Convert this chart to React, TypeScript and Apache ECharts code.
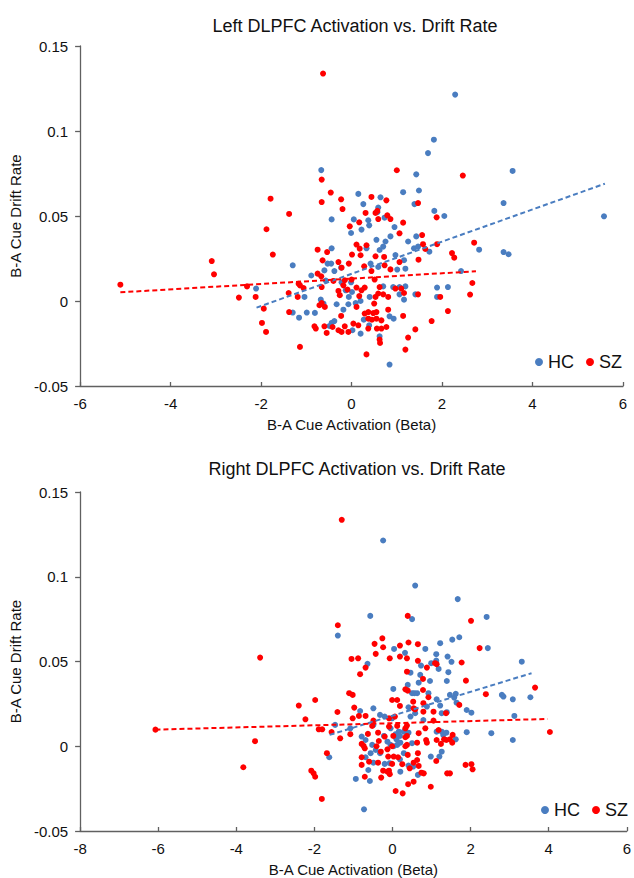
import React, { useEffect, useRef } from 'react';
import * as echarts from 'echarts';

type Pt = [number, number];

// ---------- Left DLPFC (top chart) ----------
const leftHC: Pt[] = [
  [1.69,0.087],[-0.67,0.077],[1.43,0.0745],[1.49,0.065],[1.14,0.064],[0.15,0.063],[0.64,0.061],[0.26,0.057],[1.39,0.057],[0.59,0.055],
  [1.83,0.053],[2.05,0.05],[-0.44,0.048],[0.05,0.048],[0.37,0.0475],[0.39,0.0445],[0.22,0.042],[0.73,0.049],[0.95,0.0435],[-0.01,0.04],
  [0.86,0.038],[0.55,0.036],[0.75,0.035],[1.25,0.035],[1.43,0.038],[0.7,0.032],[0.33,0.031],[0.62,0.03],[1.38,0.031],[1.72,0.029],
  [1.47,0.032],[-0.44,0.031],[0.97,0.027],[1.16,0.024],[-1.3,0.021],[-0.53,0.022],[-0.45,0.022],[-0.6,0.018],[-0.38,0.0176],[-0.23,0.0196],
  [0.42,0.022],[0.59,0.02],[1.01,0.0185],[1.19,0.019],[-0.89,0.015],[-0.57,0.012],[-0.22,0.011],[-2.11,0.0073],[-1.04,0.0024],[-0.01,0.011],
  [-0.13,0.0063],[0.01,0.0053],[-0.06,0.0024],[0.2,0.0],[0.4,0.0024],[0.7,0.0086],[0.92,0.0082],[1.06,0.0082],[1.19,0.0086],[1.06,0.0039],
  [1.16,0.0008],[1.41,0.0039],[1.89,0.0079],[2.13,0.0082],[1.89,0.0024],[-0.68,0.0008],[-1.3,-0.0068],[-1.16,-0.0098],[-0.99,-0.0068],[-0.81,-0.007],
  [-0.33,-0.0019],[-0.18,-0.0051],[-0.07,-0.0019],[0.09,-0.0012],[0.84,-0.009],[0.93,-0.0104],[-0.44,-0.0129],[-0.38,-0.0118],[0.02,-0.0172],[0.2,-0.0192],
  [0.39,-0.0143],[0.62,-0.0208],[0.84,-0.0374],[2.29,0.1214],[1.82,0.0949],[3.56,0.0765],[3.36,0.0576],[5.58,0.0498],[0.57,0.0522],[2.82,0.0302],
  [3.36,0.0288],[3.47,0.0275],[2.42,0.0176],[-0.62,-0.0015],[-0.49,-0.0147],[0.27,-0.011]
];
const leftSZ: Pt[] = [
  [-0.63,0.1338],[-0.66,0.0714],[-1.79,0.0602],[-0.46,0.0638],[-0.66,0.0582],[-1.38,0.0512],[-1.88,0.0422],[1.0,0.0769],[2.46,0.0738],[-0.23,0.0598],
  [-0.2,0.0541],[0.44,0.0612],[0.77,0.0592],[0.31,0.0518],[0.53,0.0518],[0.57,0.053],[0.79,0.0504],[0.86,0.0482],[0.59,0.0482],[0.17,0.0463],
  [-0.04,0.0439],[1.14,0.0461],[1.06,0.0398],[1.47,0.0576],[1.88,0.0492],[1.56,0.0388],[-1.74,0.0273],[1.58,0.0334],[1.63,0.0306],[1.89,0.0334],
  [-0.75,0.0302],[-0.54,0.0288],[-0.64,0.0239],[-0.29,0.0229],[-0.22,0.0196],[-0.06,0.022],[0.01,0.0273],[0.11,0.0332],[0.18,0.0308],[0.2,0.0269],
  [0.33,0.0328],[0.28,0.0204],[0.44,0.0176],[0.53,0.0263],[0.72,0.0259],[0.73,0.021],[0.86,0.0186],[1.06,0.0229],[1.48,0.0243],[2.22,0.0282],
  [2.27,0.0255],[-0.75,0.0161],[-0.67,0.0145],[-1.17,0.0102],[-1.14,0.0092],[-1.06,0.0076],[-1.39,0.0047],[-1.19,0.0024],[-0.66,0.0082],[-2.31,0.0086],
  [-2.12,0.0024],[-1.94,-0.0045],[-1.98,-0.0129],[-1.89,-0.0182],[-1.38,-0.0065],[-1.14,-0.027],[-0.71,-0.0025],[-0.66,-0.0012],[-0.59,-0.0035],[-0.82,-0.0149],
  [-0.79,-0.0162],[-0.6,-0.0149],[-0.55,-0.0188],[-0.42,-0.0153],[-0.23,-0.0088],[-0.29,-0.0172],[-0.22,-0.0182],[-0.15,-0.0149],[-0.07,-0.0182],[-0.4,0.0118],
  [-0.29,0.0059],[-0.26,0.0034],[-0.15,0.0122],[-0.18,0.0092],[-0.09,0.0067],[0.0,0.0126],[0.11,0.0079],[0.17,0.0029],[0.22,0.0063],[0.29,0.0079],
  [0.11,-0.0035],[0.29,-0.0074],[0.37,-0.0065],[0.5,-0.0015],[0.53,0.0024],[0.59,0.0044],[0.62,0.0082],[0.51,0.0126],[0.7,0.0039],[0.81,0.0024],
  [0.48,-0.0071],[0.55,-0.0065],[0.37,-0.0104],[0.45,-0.011],[0.55,-0.0104],[0.66,-0.0114],[0.81,-0.0051],[0.97,0.0073],[1.1,0.0073],[1.16,0.0047],
  [1.47,0.0039],[1.96,0.0024],[2.13,-0.0059],[1.77,-0.0118],[1.14,-0.0088],[1.41,-0.0167],[1.25,-0.0215],[1.19,-0.0286],[0.62,-0.0227],[0.63,-0.0247],
  [0.33,-0.0314],[0.37,-0.0162],[0.56,-0.0162],[0.66,-0.0162],[0.77,-0.0153],[0.15,-0.0143],[0.04,-0.0133],[-5.11,0.0096],[-3.09,0.0235],[-3.04,0.0157],
  [-2.49,0.002],[2.71,0.0343],[2.67,0.0106],[2.62,0.0038]
];
const leftHCTrend: Pt[] = [[-2.1,-0.0039],[5.6,0.069]];
const leftSZTrend: Pt[] = [[-5.11,0.0051],[2.75,0.0175]];

// ---------- Right DLPFC (bottom chart) ----------
const rightHC: Pt[] = [
  [-1.4,0.0653],[-0.24,0.1214],[0.58,0.0948],[1.67,0.0868],[-0.57,0.0769],[0.5,0.075],[2.41,0.0763],[1.22,0.0608],[1.53,0.0629],[1.71,0.0643],
  [0.84,0.0574],[0.04,0.0574],[0.32,0.0551],[1.12,0.0543],[1.41,0.0529],[2.44,0.0579],[3.31,0.0499],[-0.64,0.0486],[1.12,0.0505],[0.99,0.049],
  [1.51,0.0498],[0.73,0.0476],[1.18,0.0456],[0.46,0.0434],[0.71,0.0421],[1.43,0.0437],[0.67,0.0375],[0.96,0.0385],[1.39,0.0385],[0.39,0.0362],
  [0.02,0.0338],[0.5,0.0313],[0.56,0.0313],[0.63,0.0313],[0.92,0.0313],[1.47,0.0303],[1.58,0.0287],[1.62,0.0309],[1.13,0.0277],[1.64,0.0257],
  [0.88,0.0234],[1.22,0.024],[0.41,0.023],[-0.49,0.0224],[-0.83,0.0208],[-0.32,0.0185],[-0.2,0.0175],[-0.01,0.0165],[0.58,0.0195],[0.46,0.0175],
  [1.26,0.0195],[1.39,0.0201],[1.9,0.0214],[2.02,0.0198],[2.8,0.0303],[2.84,0.0293],[2.53,0.0077],[1.9,0.0083],[-1.47,0.0126],[-1.08,0.0106],
  [-0.49,0.0126],[-0.05,0.0106],[0.16,0.0086],[0.08,0.0071],[0.19,0.0061],[0.41,0.008],[0.79,0.0155],[1.13,0.0086],[1.26,0.0086],[1.3,0.0067],
  [1.38,0.008],[1.62,0.0041],[1.26,-0.0032],[1.2,-0.0061],[0.98,-0.0061],[-0.79,0.0057],[-0.69,0.0037],[-0.52,0.0008],[-0.22,0.0061],[-0.13,0.0027],
  [-0.05,0.0008],[0.1,0.0041],[0.2,0.0021],[0.12,0.0008],[0.03,0.0],[0.29,0.0086],[0.5,0.0018],[-0.43,-0.0022],[-0.56,-0.0041],[-0.32,-0.0041],
  [0.29,-0.0041],[-0.69,-0.0065],[-0.49,-0.0097],[-0.2,-0.0104],[-0.07,-0.01],[0.19,-0.0077],[0.41,-0.0114],[0.53,-0.012],[-0.62,-0.014],[0.2,-0.015],
  [0.65,-0.0169],[-1.62,-0.0065],[-0.94,-0.0193],[-0.58,-0.0205],[-0.73,-0.0372],[3.08,0.0277],[3.53,0.0289],[3.08,0.0037],[3.12,0.0179]
];
const rightSZ: Pt[] = [
  [-1.3,0.1336],[-3.39,0.0523],[-1.4,0.0714],[-2.4,0.024],[-1.98,0.0273],[-2.23,0.0159],[-1.41,0.0202],[-6.07,0.0098],[-3.52,0.003],[-3.82,-0.0124],
  [-2.08,-0.0144],[-2.02,-0.016],[-1.98,-0.018],[-1.81,-0.0311],[-1.89,0.01],[-1.8,0.01],[-1.68,-0.0041],[-1.56,0.0084],[-1.34,0.0047],[0.39,0.0769],
  [2.01,0.074],[-0.26,0.0637],[-0.46,0.0604],[-0.24,0.0584],[0.19,0.0594],[0.41,0.0612],[0.65,0.0602],[-0.43,0.0545],[-1.05,0.0515],[-0.88,0.0519],
  [-0.07,0.0519],[0.19,0.0529],[0.37,0.0519],[0.65,0.0504],[-0.69,0.0464],[-0.83,0.0425],[0.88,0.0464],[1.09,0.049],[1.13,0.0484],[1.77,0.0494],
  [2.23,0.0579],[0.37,0.044],[0.78,0.0397],[1.88,0.0387],[0.33,0.0336],[0.39,0.0328],[0.78,0.0332],[0.92,0.0289],[-1.11,0.0313],[-1.02,0.0303],
  [-0.01,0.0273],[0.12,0.0273],[0.53,0.0263],[0.79,0.0254],[2.39,0.0307],[-0.98,0.0228],[0.19,0.0238],[0.54,0.0224],[0.58,0.0218],[0.79,0.0204],
  [1.05,0.0204],[1.71,0.0244],[-1.02,0.0165],[-0.86,0.0179],[-0.69,0.0179],[-0.49,0.0151],[-0.09,0.0165],[0.06,0.0175],[1.05,0.0151],[1.37,0.0195],
  [-1.08,0.0071],[-0.52,0.012],[-0.09,0.0116],[0.12,0.012],[0.33,0.0106],[0.37,0.0122],[0.84,0.0106],[1.18,0.0096],[-0.63,0.0073],[-0.37,0.008],
  [-0.2,0.0057],[0.02,0.0061],[0.33,0.0053],[0.37,0.0061],[0.67,0.0077],[0.86,0.0037],[0.88,0.0021],[1.13,0.0037],[1.24,0.0014],[1.32,0.0041],
  [1.38,0.0037],[1.47,0.0041],[1.54,0.0067],[1.53,0.0021],[-0.79,0.0014],[-0.74,0.0002],[-0.71,-0.0012],[-0.35,0.0031],[-0.41,0.0],[-0.3,-0.0032],
  [-0.13,-0.0018],[-0.01,0.0],[0.33,0.0],[0.37,0.0008],[0.63,0.0021],[0.65,-0.0041],[0.63,-0.0081],[0.39,-0.0051],[-0.11,-0.0061],[0.03,-0.0061],
  [0.14,-0.0065],[-0.79,-0.0065],[-0.79,-0.011],[-0.6,-0.0091],[-0.37,-0.0097],[-0.01,-0.0104],[0.25,-0.0106],[0.54,-0.0097],[0.67,-0.0116],[1.12,-0.0087],
  [1.87,-0.011],[2.02,-0.0106],[2.05,-0.0136],[-0.24,-0.0144],[-0.13,-0.015],[-0.07,-0.0165],[-0.09,-0.0144],[-0.29,-0.0185],[0.44,-0.013],[0.74,-0.0156],
  [0.8,-0.016],[1.4,-0.016],[1.47,-0.016],[-0.71,-0.018],[0.54,-0.0209],[0.4,-0.0224],[0.98,-0.0239],[0.08,-0.0264],[0.26,-0.0278],[3.65,0.0346],
  [4.03,0.0084]
];
const rightHCTrend: Pt[] = [[-1.61,0.0067],[3.56,0.0431]];
const rightSZTrend: Pt[] = [[-6.07,0.0098],[3.97,0.0161]];

const titles = ['Left DLPFC Activation vs. Drift Rate', 'Right DLPFC Activation vs. Drift Rate'];
const xName = 'B-A Cue Activation (Beta)';
const yName = 'B-A Cue Drift Rate';
const xRanges: [number, number][] = [[-6, 6], [-8, 6]];
const yRange: [number, number] = [-0.05, 0.15];

const BLUE = '#4A7DC0';
const RED = '#FF0000';
const FONT = 'Liberation Sans, Arial, Helvetica, sans-serif';
const TEXT = '#111111';
const AXIS = '#606060';

export default function App() {
  const ref = useRef<HTMLDivElement>(null);
  useEffect(() => {
    if (!ref.current) return;
    const chart = echarts.init(ref.current, null, { renderer: 'svg' });

    const grids = [
      { left: 77, top: 46, width: 546, height: 340 },
      { left: 77, top: 492, width: 551, height: 339 },
    ];
    const xAxes = xRanges.map((r, i) => ({
      type: 'value', gridIndex: i, min: r[0], max: r[1], interval: 2,
      name: xName, nameLocation: 'middle', nameGap: 31,
      nameTextStyle: { fontSize: 15, color: TEXT, fontFamily: FONT },
      axisLine: { show: true, onZero: false, lineStyle: { color: AXIS, width: 1.3 } },
      axisTick: { show: true, inside: true, length: 4, lineStyle: { color: AXIS, width: 1.3 } },
      axisLabel: { fontSize: 15, color: TEXT, fontFamily: FONT, margin: 10 },
      splitLine: { show: false },
    }));
    const yAxes = [0, 1].map((i) => ({
      type: 'value', gridIndex: i, min: yRange[0], max: yRange[1], interval: 0.05,
      name: yName, nameLocation: 'middle', nameGap: 54,
      nameTextStyle: { fontSize: 15, color: TEXT, fontFamily: FONT },
      axisLine: { show: true, onZero: false, lineStyle: { color: AXIS, width: 1.3 } },
      axisTick: { show: true, inside: false, length: 5, lineStyle: { color: AXIS, width: 1.3 } },
      axisLabel: {
        fontSize: 15, color: TEXT, fontFamily: FONT, margin: 12,
        formatter: (v: number) => String(+v.toFixed(2)),
      },
      splitLine: { show: false },
    }));

    const scatter = (name: string, data: Pt[], idx: number, color: string) => ({
      type: 'scatter', name, data, xAxisIndex: idx, yAxisIndex: idx,
      symbol: 'circle', symbolSize: 6, itemStyle: { color, opacity: 1 }, z: 2,
    });
    const trend = (name: string, data: Pt[], idx: number, color: string) => ({
      type: 'line', name, data, xAxisIndex: idx, yAxisIndex: idx,
      symbol: 'none', silent: true, z: 3,
      lineStyle: { color, width: 2, type: [5, 3] },
    });

    const legendCommon = {
      orient: 'horizontal', icon: 'circle', itemWidth: 8, itemHeight: 8, itemGap: 12, padding: 0,
      textStyle: { fontSize: 18, color: TEXT, fontFamily: FONT },
      data: ['HC', 'SZ'],
      selectedMode: false,
    };

    chart.setOption({
      animation: false,
      backgroundColor: '#ffffff',
      title: [
        { text: titles[0], left: 350, top: 12, textAlign: 'center', textStyle: { fontSize: 18, fontWeight: 'normal', color: TEXT, fontFamily: FONT } },
        { text: titles[1], left: 352, top: 455, textAlign: 'center', textStyle: { fontSize: 18, fontWeight: 'normal', color: TEXT, fontFamily: FONT } },
      ],
      legend: [
        { ...legendCommon, left: 535, top: 353 },
        { ...legendCommon, left: 541, top: 801 },
      ],
      grid: grids,
      xAxis: xAxes,
      yAxis: yAxes,
      series: [
        scatter('HC', leftHC, 0, BLUE),
        scatter('SZ', leftSZ, 0, RED),
        trend('HC trend L', leftHCTrend, 0, BLUE),
        trend('SZ trend L', leftSZTrend, 0, RED),
        scatter('HC', rightHC, 1, BLUE),
        scatter('SZ', rightSZ, 1, RED),
        trend('HC trend R', rightHCTrend, 1, BLUE),
        trend('SZ trend R', rightSZTrend, 1, RED),
      ],
    });
    return () => chart.dispose();
  }, []);
  return (
    <div
      ref={ref}
      style={{ position: 'fixed', left: 0, top: 0, width: 634, height: 878, background: '#fff' }}
    />
  );
}
